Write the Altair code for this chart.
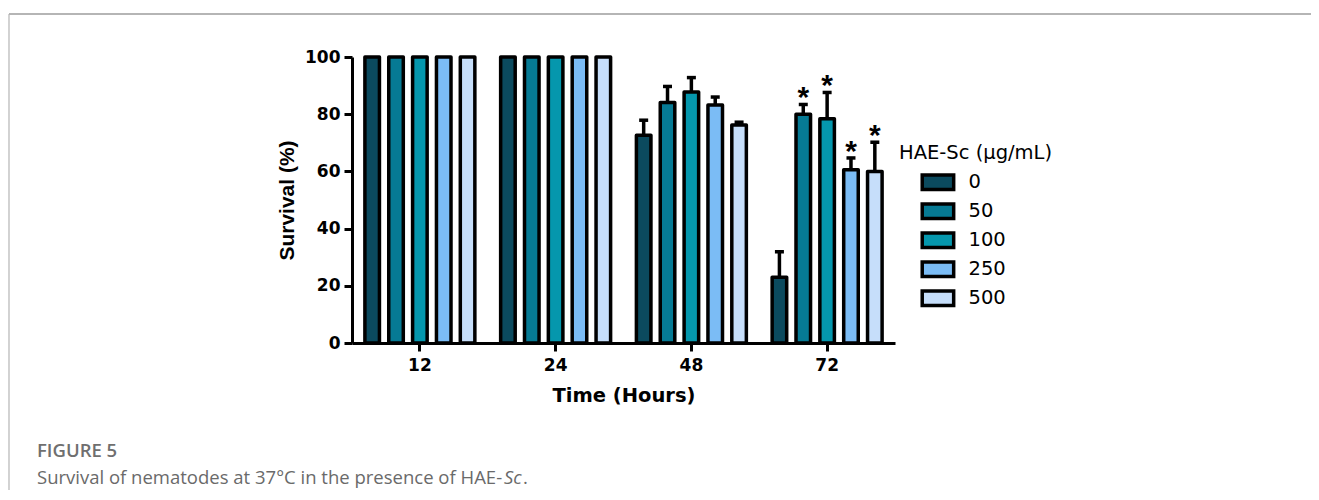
import altair as alt
import pandas as pd

times = ["12", "24", "48", "72"]
doses = ["0", "50", "100", "250", "500"]
colors = ["#0b4a5e", "#067a94", "#0597ad", "#7bbcf5", "#c6defa"]

surv_12 = [100, 100, 100, 100, 100]
surv_24 = [100, 100, 100, 100, 100]
surv_48 = [72.6, 84.1, 87.8, 83.2, 76.2]
surv_72 = [23.0, 80.0, 78.4, 60.6, 60.0]

err_12 = [0, 0, 0, 0, 0]
err_24 = [0, 0, 0, 0, 0]
err_48 = [5.3, 5.6, 5.0, 2.8, 1.0]
err_72 = [8.9, 3.4, 9.2, 4.1, 10.2]

star_72 = ["", "*", "*", "*", "*"]

rows = []
for t, vals, errs in zip(times, [surv_12, surv_24, surv_48, surv_72], [err_12, err_24, err_48, err_72]):
    for i, d in enumerate(doses):
        rows.append({
            "time": t, "dose": d, "value": vals[i], "err": errs[i],
            "upper": vals[i] + errs[i],
            "star": star_72[i] if t == "72" else "",
        })
df = pd.DataFrame(rows)

FONT = "DejaVu Sans"

x_enc = alt.X("time:N", sort=times,
              scale=alt.Scale(paddingInner=0.19, paddingOuter=0.095),
              axis=alt.Axis(title="Time (Hours)", labelAngle=0, labelPadding=6,
                            titlePadding=13))
xo_enc = alt.XOffset("dose:N", sort=doses,
                     scale=alt.Scale(paddingInner=0.39, paddingOuter=0))
y_enc = alt.Y("value:Q", scale=alt.Scale(domain=[0, 100], nice=False),
              axis=alt.Axis(title="Survival (%)", values=[0, 20, 40, 60, 80, 100],
                            labelPadding=4, titleFont="Liberation Sans",
                            titleFontSize=21, titlePadding=7, grid=False))

bars = alt.Chart(df).mark_bar(stroke="black", strokeWidth=3.5, strokeJoin="round").encode(
    x=x_enc, xOffset=xo_enc, y=y_enc,
    color=alt.Color("dose:N", sort=doses,
                    scale=alt.Scale(domain=doses, range=colors),
                    legend=alt.Legend(title="HAE-Sc (μg/mL)", orient="none",
                                      legendX=547, legendY=87, padding=0,
                                      symbolType="M1.86,-1H6.2V1H1.86Z",
                                      symbolSize=210,
                                      symbolStrokeColor="black",
                                      symbolStrokeWidth=3.5,
                                      symbolOpacity=1,
                                      labelOffset=50,
                                      rowPadding=0,
                                      titlePadding=9,
                                      titleFont=FONT, titleFontSize=19.5,
                                      titleFontWeight="normal", titleColor="black",
                                      labelFont=FONT, labelFontSize=19.5,
                                      labelColor="black")),
)

errdf = df[df["err"] > 0]
err_rule = alt.Chart(errdf).mark_rule(color="black", strokeWidth=3.5).encode(
    x=alt.X("time:N", sort=times), xOffset=alt.XOffset("dose:N", sort=doses),
    y="value:Q", y2="upper:Q")
err_cap = alt.Chart(errdf).mark_tick(color="black", thickness=3.5, size=9, opacity=1).encode(
    x=alt.X("time:N", sort=times), xOffset=alt.XOffset("dose:N", sort=doses),
    y="upper:Q")
stars = alt.Chart(df[df["star"] != ""]).mark_text(
    font="Liberation Sans", fontSize=30, fontWeight="bold", color="black",
    baseline="alphabetic", dy=3).encode(
    x=alt.X("time:N", sort=times), xOffset=alt.XOffset("dose:N", sort=doses),
    y="upper:Q", text="star:N")

one = alt.Data(values=[{"k": 1}])
frame_top = alt.Chart(one).mark_rule(color="#b5b5b5", strokeWidth=2).encode(
    x=alt.value(-343), x2=alt.value(1000), y=alt.value(-43))
frame_left = alt.Chart(one).mark_rule(color="#b5b5b5", strokeWidth=1.2).encode(
    x=alt.value(-343), y=alt.value(-43), y2=alt.value(450))

fig_label = alt.Chart(one).mark_text(
    text="FIGURE 5", font="Open Sans", fontSize=18.5, fontWeight=600,
    color="#6f6f6f", align="left", baseline="middle").encode(
    x=alt.value(-315), y=alt.value(394))
cap_main = alt.Chart(one).mark_text(
    text="Survival of nematodes at 37°C in the presence of HAE-", font="Open Sans",
    fontSize=18.5, color="#6a6a6a", align="left", baseline="middle").encode(
    x=alt.value(-315), y=alt.value(421))
cap_it = alt.Chart(one).mark_text(
    text="Sc", font="Open Sans", fontSize=18.5, fontStyle="italic",
    color="#6a6a6a", align="left", baseline="middle").encode(
    x=alt.value(152), y=alt.value(421))
cap_end = alt.Chart(one).mark_text(
    text=".", font="Open Sans", fontSize=18.5,
    color="#6a6a6a", align="left", baseline="middle").encode(
    x=alt.value(171), y=alt.value(421))

chart = alt.layer(frame_top, frame_left, bars, err_rule, err_cap, stars,
                  fig_label, cap_main, cap_it, cap_end).properties(
    width=543, height=286,
    autosize=alt.AutoSizeParams(type="none"),
    padding={"left": 344, "top": 49, "right": 416, "bottom": 147},
).configure_view(stroke=None).configure_axis(
    domainColor="black", domainWidth=3, tickColor="black", tickWidth=3, tickSize=8,
    labelFont=FONT, labelFontWeight="bold", labelFontSize=17, labelColor="black",
    titleFont=FONT, titleFontWeight="bold", titleFontSize=19.5, titleColor="black",
)

chart.save("out.html", embed_options={"renderer": "svg", "actions": False})
